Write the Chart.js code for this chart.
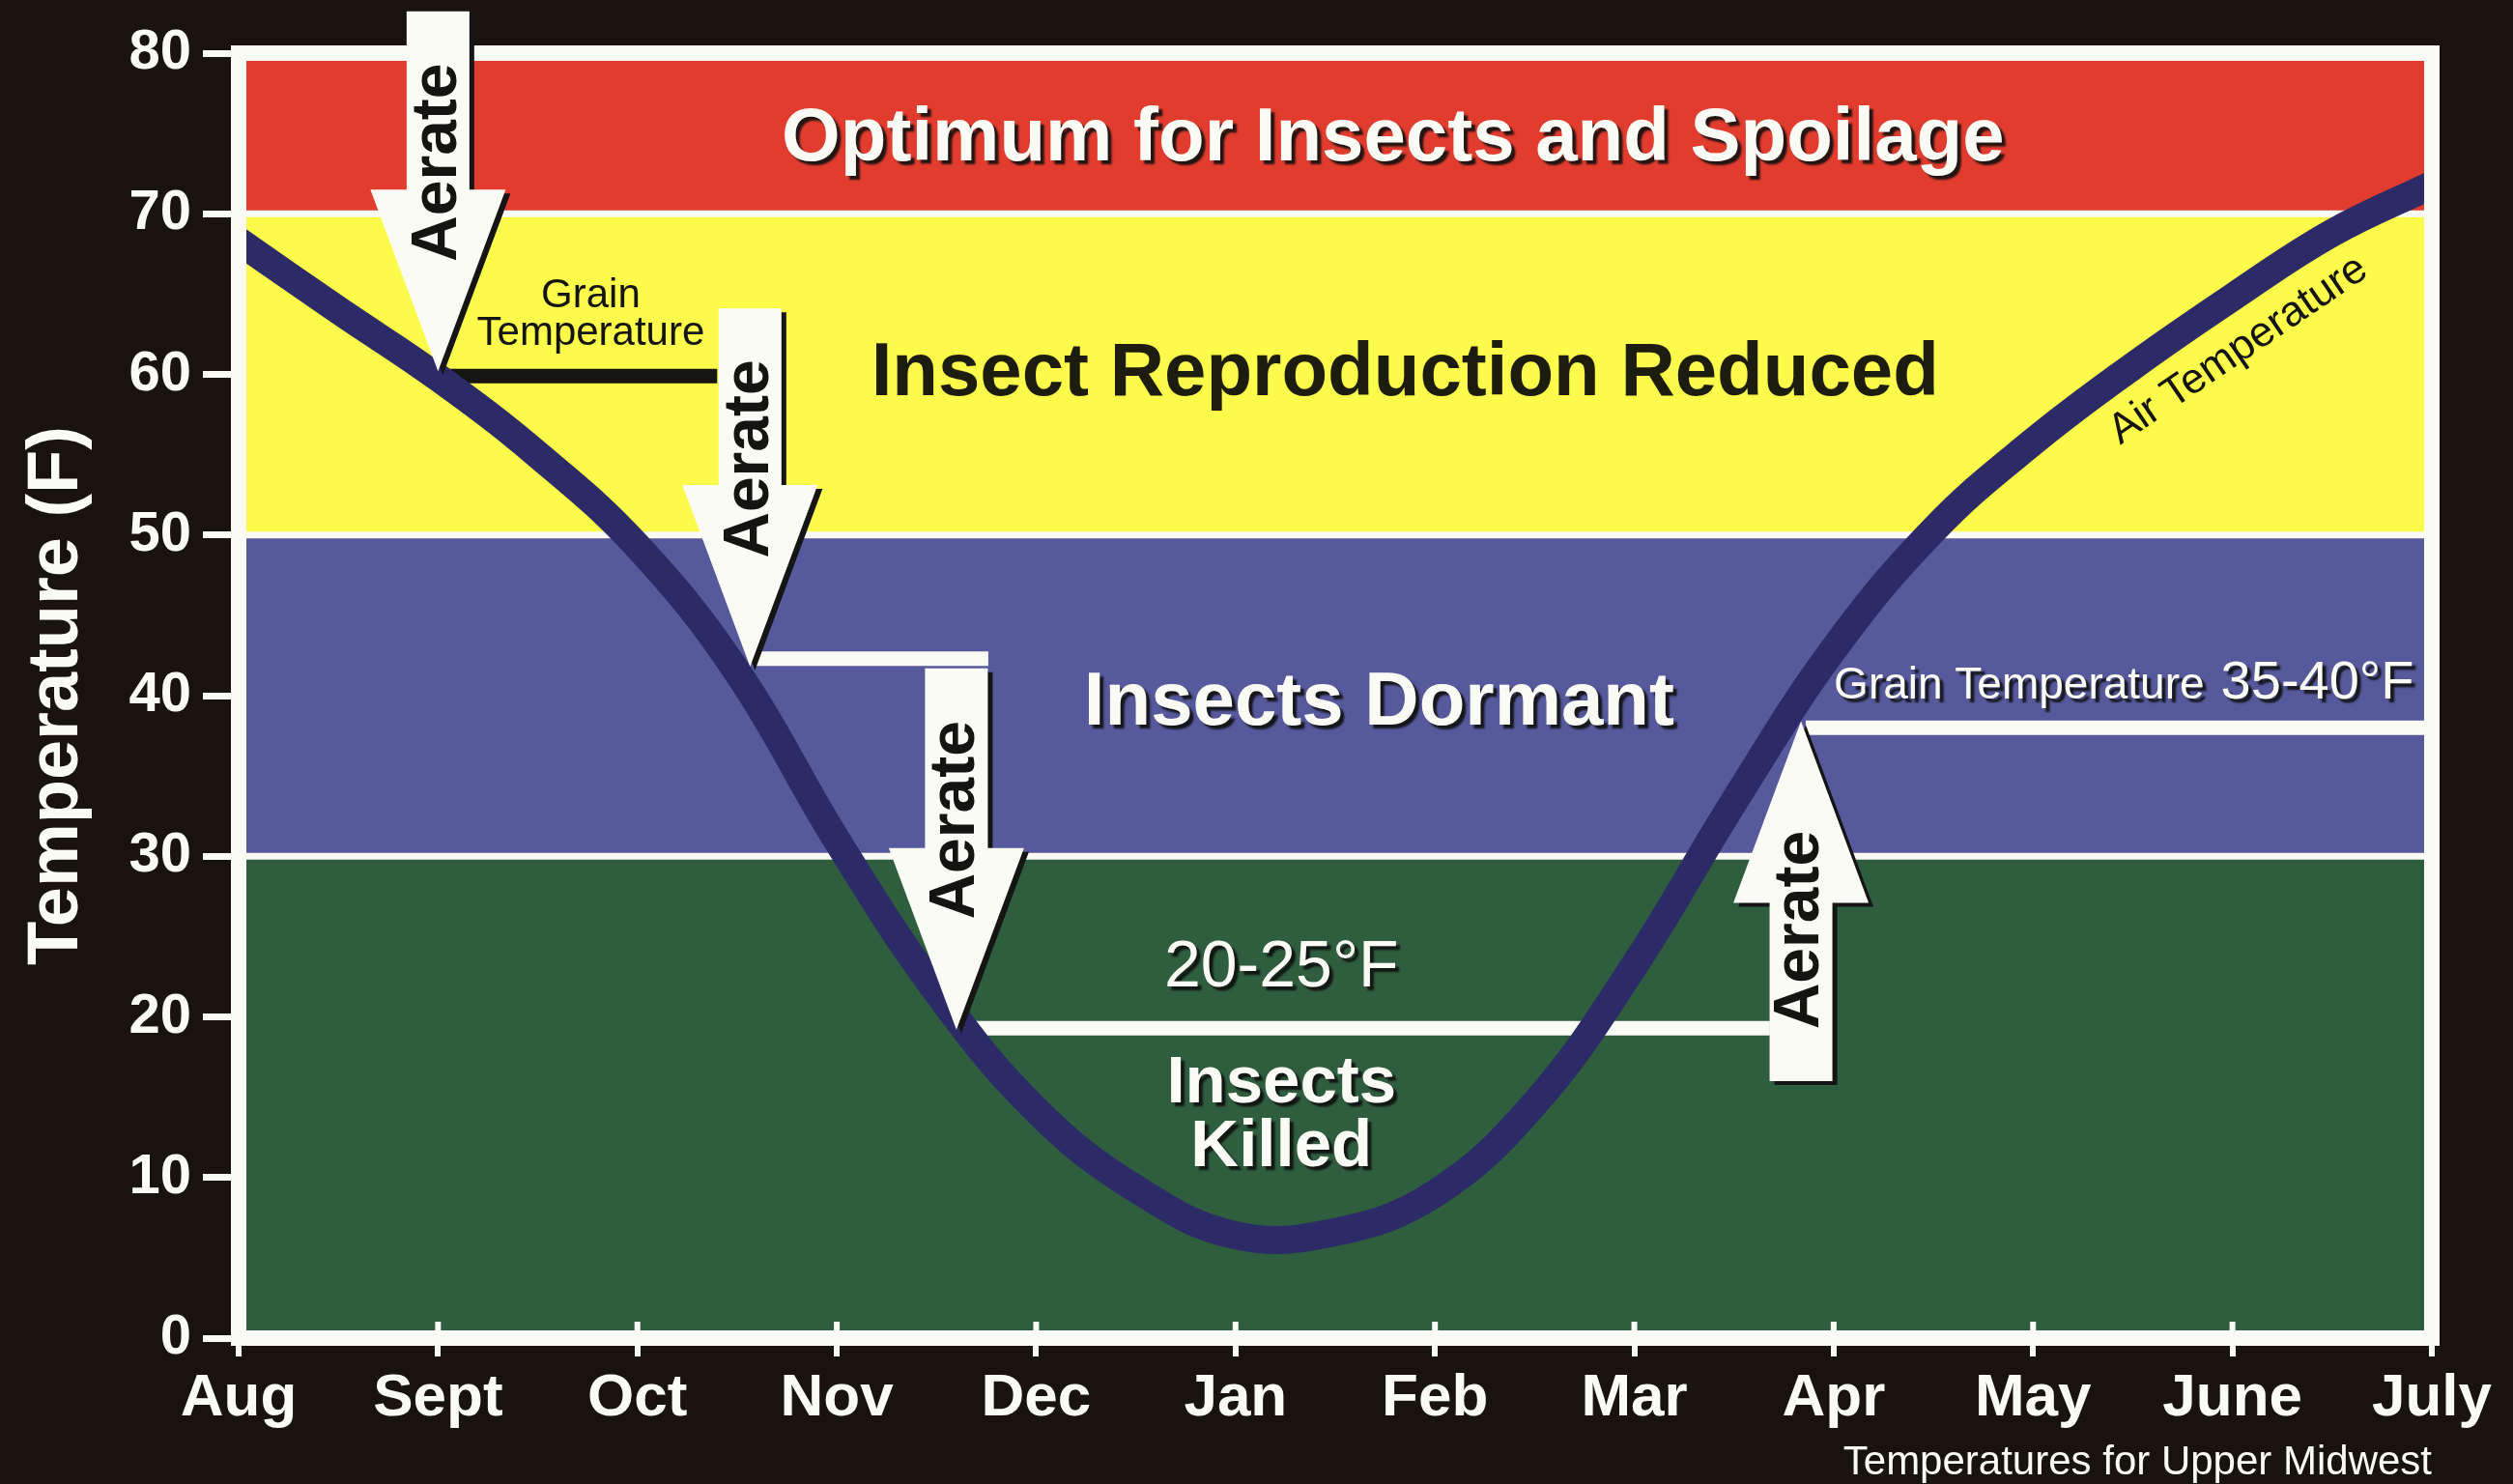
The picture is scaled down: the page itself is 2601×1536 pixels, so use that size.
<!DOCTYPE html>
<html lang="en">
<head>
<meta charset="UTF-8">
<title>Temperatures for Upper Midwest</title>
<script src="https://cdn.jsdelivr.net/npm/chart.js@4.4.1/dist/chart.umd.min.js"></script>
<style>
  html, body { margin: 0; padding: 0; background: #18130f; }
  #wrap { width: 2601px; height: 1536px; }
</style>
</head>
<body>
<div id="wrap"><canvas id="grainChart" width="2601" height="1536"></canvas></div>
<script>
// x axis: months, Aug through July
const months = ['Aug', 'Sept', 'Oct', 'Nov', 'Dec', 'Jan', 'Feb', 'Mar', 'Apr', 'May', 'June', 'July'];

// air temperature every half month
const airMonth = [0, 0.5, 1, 1.5, 2, 2.5, 3, 3.5, 4, 4.5, 5, 5.5, 6, 6.5, 7, 7.5, 8, 8.5, 9, 9.5, 10, 10.5, 11];
const airTemp  = [68.3, 64.0, 59.8, 55.0, 49.3, 41.5, 31.0, 21.6, 14.2, 9.3, 6.4, 6.6, 9.0, 14.6, 23.2, 33.4, 42.9, 50.3, 55.8, 60.5, 64.8, 68.8, 71.8];

// temperature zones (F)
const zoneLow   = [70, 50, 30, 0];
const zoneHigh  = [80, 70, 50, 30];
const zoneNames = ['Optimum for Insects and Spoilage', 'Insect Reproduction Reduced', 'Insects Dormant', 'Insects Killed'];

// aeration steps: when (month), grain temp before and after
const aerateMonth = [1.0, 2.565, 3.6, 7.836];
const aerateFrom  = [82.6, 64.1, 41.7, 16.0];
const aerateTo    = [60.2, 41.8, 19.2, 38.4];

// grain temperature held between the aerations
const holdTemp  = [59.9, 42.3, 19.3, 38.0];
const holdStart = [1.02, 2.58, 3.66, 7.86];
const holdEnd   = [2.40, 3.76, 7.68, 11];

const yTicks = [0, 10, 20, 30, 40, 50, 60, 70, 80];

const FONT = '"Liberation Sans", Arial, Helvetica, sans-serif';
const zoneColors = ['#e13c2e', '#fcfa4a', '#56599b', '#2f5e3e'];
const paper = '#fbfbf5';
const ink = '#141410';

function label(ctx, text, x, y, font, color, shadow, align) {
  ctx.save();
  ctx.font = font;
  ctx.fillStyle = color;
  ctx.textAlign = align || 'center';
  ctx.textBaseline = 'middle';
  if (shadow) {
    ctx.shadowColor = 'rgba(15,15,15,0.9)';
    ctx.shadowOffsetX = 4;
    ctx.shadowOffsetY = 4;
    ctx.shadowBlur = 2;
  }
  ctx.fillText(text, x, y);
  ctx.restore();
}

function arrowPath(ctx, cx, yTail, yTip) {
  const shaftW = 65, headW = 140, headLen = 188;
  const dir = yTip > yTail ? 1 : -1;
  const base = yTip - dir * headLen;
  ctx.beginPath();
  ctx.moveTo(cx - shaftW / 2, yTail);
  ctx.lineTo(cx + shaftW / 2, yTail);
  ctx.lineTo(cx + shaftW / 2, base);
  ctx.lineTo(cx + headW / 2, base);
  ctx.lineTo(cx, yTip);
  ctx.lineTo(cx - headW / 2, base);
  ctx.lineTo(cx - shaftW / 2, base);
  ctx.closePath();
}

const grainPlugin = {
  id: 'grainZones',
  beforeDraw(chart) {
    const ctx = chart.ctx;
    ctx.save();
    ctx.fillStyle = '#18130f';
    ctx.fillRect(0, 0, chart.width, chart.height);
    ctx.restore();
  },
  beforeDatasetsDraw(chart) {
    const {ctx, chartArea: a, scales: {x, y}} = chart;
    ctx.save();
    zoneLow.forEach((lo, i) => {
      const top = y.getPixelForValue(zoneHigh[i]);
      const bot = y.getPixelForValue(lo);
      ctx.fillStyle = zoneColors[i];
      ctx.fillRect(a.left, top, a.right - a.left, bot - top);
    });
    ctx.strokeStyle = paper;
    ctx.lineWidth = 7;
    zoneLow.forEach(lo => {
      if (lo <= y.min) return;
      const py = y.getPixelForValue(lo);
      ctx.beginPath();
      ctx.moveTo(a.left, py);
      ctx.lineTo(a.right, py);
      ctx.stroke();
    });
    holdTemp.forEach((t, i) => {
      const py = y.getPixelForValue(t);
      ctx.strokeStyle = i === 0 ? ink : paper;
      ctx.lineWidth = 15;
      ctx.beginPath();
      ctx.moveTo(x.getPixelForValue(holdStart[i]), py);
      ctx.lineTo(x.getPixelForValue(holdEnd[i]), py);
      ctx.stroke();
    });
    ctx.restore();
  },
  afterDatasetsDraw(chart) {
    const {ctx, chartArea: a, scales: {x, y}} = chart;
    ctx.save();
    // white frame around the plot
    ctx.strokeStyle = paper;
    ctx.lineWidth = 16;
    ctx.strokeRect(a.left, a.top, a.right - a.left, a.bottom - a.top);
    // tick stubs poking into the plot
    ctx.lineWidth = 6;
    x.ticks.forEach(t => {
      const px = x.getPixelForValue(t.value);
      ctx.beginPath();
      ctx.moveTo(px, a.bottom - 17);
      ctx.lineTo(px, a.bottom);
      ctx.stroke();
    });

    // aerate arrows
    aerateMonth.forEach((m, i) => {
      const cx = x.getPixelForValue(m);
      const yTail = y.getPixelForValue(aerateFrom[i]);
      const yTip = y.getPixelForValue(aerateTo[i]);
      ctx.save();
      ctx.translate(5, 4);
      arrowPath(ctx, cx, yTail, yTip);
      ctx.fillStyle = '#151515';
      ctx.fill();
      ctx.restore();
      arrowPath(ctx, cx, yTail, yTip);
      ctx.fillStyle = paper;
      ctx.fill();
      ctx.save();
      ctx.translate(cx, yTip + 0.58 * (yTail - yTip));
      ctx.rotate(-Math.PI / 2);
      label(ctx, 'Aerate', 0, 0, 'bold 66px ' + FONT, ink, false);
      ctx.restore();
    });

    // zone names
    const px = x.getPixelForValue.bind(x), py = y.getPixelForValue.bind(y);
    label(ctx, zoneNames[0], px(5.79), py(74.6), 'bold 78px ' + FONT, paper, true);
    label(ctx, zoneNames[1], px(5.85), py(60.0), 'bold 78px ' + FONT, '#1d1d0f', false);
    label(ctx, zoneNames[2], px(5.72), py(39.5), 'bold 78px ' + FONT, paper, true);
    const killed = zoneNames[3].split(' ');
    label(ctx, killed[0], px(5.23), py(15.8), 'bold 69px ' + FONT, paper, true);
    label(ctx, killed[1], px(5.23), py(11.85), 'bold 69px ' + FONT, paper, true);
    label(ctx, '20-25°F', px(5.23), py(23.0), '68px ' + FONT, paper, true);

    // grain temperature notes
    label(ctx, 'Grain', px(1.766), py(64.9), '42px ' + FONT, ink, false);
    label(ctx, 'Temperature', px(1.766), py(62.55), '42px ' + FONT, ink, false);

    const xr = px(10.91), base = py(39.6);
    ctx.save();
    ctx.font = '56px ' + FONT;
    const w2 = ctx.measureText('35-40°F').width;
    ctx.restore();
    label(ctx, '35-40°F', xr, base - 19, '56px ' + FONT, paper, true, 'right');
    label(ctx, 'Grain Temperature', xr - w2 - 17, base - 16, '46px ' + FONT, paper, true, 'right');

    // curve name
    ctx.save();
    ctx.translate(px(10.03), py(61.5));
    ctx.rotate(-34.3 * Math.PI / 180);
    label(ctx, 'Air Temperature', 0, 0, '44px ' + FONT, ink, false);
    ctx.restore();

    ctx.restore();
  }
};

new Chart(document.getElementById('grainChart'), {
  type: 'line',
  data: {
    datasets: [{
      label: 'Air Temperature',
      data: airMonth.map((m, i) => ({x: m, y: airTemp[i]})),
      borderColor: '#2c2b68',
      borderWidth: 29,
      borderCapStyle: 'butt',
      borderJoinStyle: 'round',
      pointRadius: 0,
      tension: 0.4,
      clip: 0
    }]
  },
  options: {
    responsive: false,
    animation: false,
    devicePixelRatio: 1,
    layout: { padding: { top: 55, right: 84, left: 0, bottom: 0 } },
    plugins: {
      legend: { display: false },
      tooltip: { enabled: false }
    },
    scales: {
      x: {
        type: 'linear',
        min: 0,
        max: months.length - 1,
        afterFit(scale) { scale.height = 151; },
        border: { display: false },
        grid: { drawOnChartArea: false, drawTicks: true, tickLength: 19, color: paper, lineWidth: 6 },
        ticks: {
          stepSize: 1,
          autoSkip: false,
          maxRotation: 0,
          padding: 7,
          color: paper,
          font: { family: FONT, size: 62, weight: 'bold' },
          callback: v => months[v]
        },
        title: {
          display: true,
          text: 'Temperatures for Upper Midwest',
          align: 'end',
          color: paper,
          font: { family: FONT, size: 42, lineHeight: 1 },
          padding: { top: 0, bottom: 1 }
        }
      },
      y: {
        min: yTicks[0],
        max: yTicks[yTicks.length - 1],
        afterFit(scale) { scale.width = 247; },
        border: { display: false },
        grid: { drawOnChartArea: false, drawTicks: true, tickLength: 37, color: paper, lineWidth: 7 },
        ticks: {
          stepSize: yTicks[1] - yTicks[0],
          padding: 12,
          color: paper,
          font: { family: FONT, size: 58, weight: 'bold' }
        },
        title: {
          display: true,
          text: 'Temperature (F)',
          color: paper,
          font: { family: FONT, size: 74, weight: 'bold' },
          padding: { top: 15, bottom: 0 }
        }
      }
    }
  },
  plugins: [grainPlugin]
});
</script>
</body>
</html>
